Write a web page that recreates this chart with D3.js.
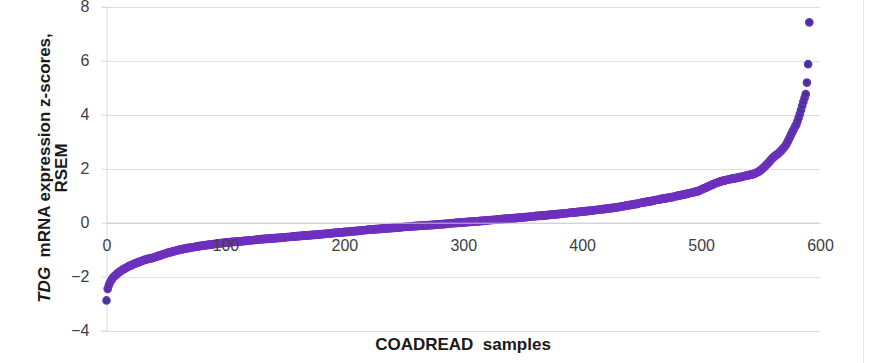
<!DOCTYPE html>
<html>
<head>
<meta charset="utf-8">
<script src="https://cdn.jsdelivr.net/npm/d3@7"></script>
<style>
  html, body { margin: 0; padding: 0; background: #ffffff; }
  svg { display: block; font-family: "Liberation Sans", Arial, sans-serif; }
</style>
</head>
<body>
<svg id="chart" width="870" height="363"></svg>
<script>
// ---- data (sorted TDG z-scores, one per COADREAD sample) ----
const zScores = [
-2.88,-2.45,-2.31,-2.21,-2.13,-2.06,-2.01,-1.97,-1.93,-1.89,
-1.85,-1.82,-1.79,-1.76,-1.73,-1.71,-1.68,-1.66,-1.63,-1.61,
-1.59,-1.57,-1.55,-1.53,-1.51,-1.50,-1.48,-1.46,-1.44,-1.43,
-1.41,-1.39,-1.38,-1.37,-1.35,-1.34,-1.33,-1.32,-1.31,-1.30,
-1.29,-1.27,-1.26,-1.24,-1.23,-1.21,-1.20,-1.18,-1.17,-1.15,
-1.14,-1.13,-1.11,-1.10,-1.09,-1.08,-1.06,-1.05,-1.04,-1.03,
-1.02,-1.01,-1.00,-0.99,-0.98,-0.97,-0.96,-0.95,-0.94,-0.93,
-0.93,-0.92,-0.91,-0.91,-0.90,-0.89,-0.88,-0.88,-0.87,-0.86,
-0.86,-0.85,-0.84,-0.84,-0.83,-0.82,-0.82,-0.81,-0.80,-0.80,
-0.79,-0.79,-0.78,-0.78,-0.77,-0.77,-0.76,-0.76,-0.75,-0.75,
-0.74,-0.74,-0.73,-0.73,-0.72,-0.72,-0.71,-0.71,-0.71,-0.70,
-0.70,-0.69,-0.69,-0.69,-0.68,-0.68,-0.67,-0.67,-0.67,-0.66,
-0.66,-0.65,-0.65,-0.65,-0.64,-0.64,-0.63,-0.63,-0.62,-0.62,
-0.61,-0.61,-0.61,-0.60,-0.60,-0.60,-0.59,-0.59,-0.58,-0.58,
-0.58,-0.57,-0.57,-0.57,-0.56,-0.56,-0.56,-0.55,-0.55,-0.54,
-0.54,-0.54,-0.53,-0.53,-0.53,-0.52,-0.52,-0.51,-0.51,-0.51,
-0.50,-0.50,-0.50,-0.49,-0.49,-0.48,-0.48,-0.48,-0.47,-0.47,
-0.47,-0.46,-0.46,-0.45,-0.45,-0.45,-0.44,-0.44,-0.44,-0.43,
-0.43,-0.42,-0.42,-0.42,-0.41,-0.41,-0.40,-0.40,-0.40,-0.39,
-0.39,-0.38,-0.38,-0.38,-0.37,-0.37,-0.36,-0.36,-0.36,-0.35,
-0.35,-0.34,-0.34,-0.34,-0.33,-0.33,-0.32,-0.32,-0.31,-0.31,
-0.31,-0.30,-0.30,-0.29,-0.29,-0.28,-0.28,-0.28,-0.27,-0.27,
-0.26,-0.26,-0.26,-0.25,-0.25,-0.25,-0.24,-0.24,-0.24,-0.23,
-0.23,-0.23,-0.22,-0.22,-0.21,-0.21,-0.21,-0.20,-0.20,-0.20,
-0.19,-0.19,-0.19,-0.18,-0.18,-0.18,-0.17,-0.17,-0.17,-0.16,
-0.16,-0.16,-0.15,-0.15,-0.15,-0.14,-0.14,-0.14,-0.13,-0.13,
-0.13,-0.12,-0.12,-0.12,-0.11,-0.11,-0.11,-0.11,-0.10,-0.10,
-0.10,-0.09,-0.09,-0.09,-0.08,-0.08,-0.08,-0.07,-0.07,-0.06,
-0.06,-0.06,-0.05,-0.05,-0.05,-0.04,-0.04,-0.03,-0.03,-0.03,
-0.02,-0.02,-0.02,-0.01,-0.01,-0.01,0.00,0.00,0.00,0.01,
0.01,0.01,0.02,0.02,0.03,0.03,0.03,0.04,0.04,0.04,
0.05,0.05,0.05,0.06,0.06,0.07,0.07,0.07,0.08,0.08,
0.08,0.09,0.09,0.10,0.10,0.10,0.11,0.11,0.11,0.12,
0.12,0.12,0.13,0.13,0.14,0.14,0.14,0.15,0.15,0.15,
0.16,0.16,0.17,0.17,0.17,0.18,0.18,0.19,0.19,0.19,
0.20,0.20,0.21,0.21,0.21,0.22,0.22,0.23,0.23,0.23,
0.24,0.24,0.25,0.25,0.25,0.26,0.26,0.27,0.27,0.27,
0.28,0.28,0.29,0.29,0.30,0.30,0.30,0.31,0.31,0.32,
0.32,0.33,0.33,0.33,0.34,0.34,0.35,0.35,0.36,0.36,
0.37,0.37,0.37,0.38,0.38,0.39,0.39,0.40,0.40,0.41,
0.41,0.42,0.42,0.43,0.43,0.44,0.44,0.45,0.45,0.46,
0.46,0.47,0.47,0.48,0.48,0.49,0.49,0.50,0.50,0.51,
0.51,0.52,0.53,0.53,0.54,0.54,0.55,0.56,0.56,0.57,
0.58,0.58,0.59,0.60,0.61,0.61,0.62,0.63,0.64,0.65,
0.65,0.66,0.67,0.68,0.69,0.69,0.70,0.71,0.72,0.73,
0.74,0.74,0.75,0.76,0.77,0.78,0.79,0.79,0.80,0.81,
0.82,0.83,0.84,0.85,0.85,0.86,0.87,0.88,0.89,0.89,
0.90,0.91,0.92,0.93,0.94,0.95,0.95,0.96,0.97,0.98,
0.99,1.00,1.01,1.02,1.03,1.04,1.05,1.06,1.07,1.08,
1.09,1.10,1.11,1.12,1.13,1.14,1.15,1.16,1.18,1.20,
1.22,1.24,1.26,1.28,1.30,1.32,1.34,1.36,1.38,1.40,
1.42,1.44,1.46,1.47,1.49,1.50,1.52,1.53,1.55,1.56,
1.57,1.58,1.59,1.60,1.61,1.62,1.62,1.63,1.64,1.65,
1.66,1.67,1.68,1.69,1.70,1.71,1.72,1.73,1.74,1.75,
1.76,1.77,1.78,1.79,1.80,1.82,1.84,1.86,1.88,1.91,
1.94,1.98,2.02,2.06,2.10,2.15,2.19,2.24,2.29,2.34,
2.39,2.43,2.47,2.50,2.53,2.57,2.61,2.65,2.70,2.75,
2.80,2.86,2.93,3.02,3.11,3.20,3.30,3.38,3.47,3.56,
3.63,3.75,3.88,4.02,4.17,4.33,4.48,4.62,4.76,5.19,
5.87,7.42
];
const xTicks = [0, 100, 200, 300, 400, 500, 600];
const yTicks = [-4, -2, 0, 2, 4, 6, 8];
const xTitle = "COADREAD  samples";
const yTitleGene = "TDG";
const yTitleRest = "  mRNA expression z-scores,";
const yTitleLine2 = "RSEM";

// ---- layout ----
const svg = d3.select("#chart");
const x = d3.scaleLinear().domain([0, 600]).range([106.5, 820]);
const y = d3.scaleLinear().domain([-4, 8]).range([330.7, 6.7]);

// right frame edge
svg.append("line")
  .attr("x1", 863.5).attr("x2", 863.5).attr("y1", 0).attr("y2", 363)
  .attr("stroke", "#e6e6e6").attr("stroke-width", 1);

// horizontal gridlines
svg.append("g").selectAll("line").data(yTicks.filter(d => d !== 0)).join("line")
  .attr("x1", x(0)).attr("x2", x(600))
  .attr("y1", d => Math.round(y(d)) + 0.5).attr("y2", d => Math.round(y(d)) + 0.5)
  .attr("stroke", "#dedede").attr("stroke-width", 1);

// y axis (left, with short outside ticks)
const yAxis = svg.append("g")
  .attr("transform", `translate(${x(0)},0)`)
  .call(d3.axisLeft(y).tickValues(yTicks).tickSize(5).tickPadding(12).tickFormat(d3.format("d")));
yAxis.select(".domain").attr("stroke", "#d9d9d9");
yAxis.selectAll(".tick line").attr("stroke", "#d9d9d9");
yAxis.selectAll(".tick text")
  .attr("font-size", 16).attr("fill", "#404040")
  .attr("font-family", "Liberation Sans, Arial, sans-serif");

// x axis drawn at y = 0
const xAxis = svg.append("g")
  .attr("transform", `translate(0,${y(0)})`)
  .call(d3.axisBottom(x).tickValues(xTicks).tickSize(0).tickFormat(d3.format("d")));
xAxis.select(".domain").attr("stroke", "#bfbfbf");
xAxis.selectAll(".tick text")
  .attr("y", 28).attr("dy", 0)
  .attr("font-size", 16).attr("fill", "#404040")
  .attr("font-family", "Liberation Sans, Arial, sans-serif");

// points
svg.append("g").selectAll("circle").data(zScores).join("circle")
  .attr("cx", (d, i) => x(i))
  .attr("cy", d => y(d))
  .attr("r", 3.6)
  .attr("fill", "#3d3a8c")
  .attr("stroke", "#7030c0")
  .attr("stroke-width", 1.5);

// keep x tick labels above points (as in reference they overlap the curve)
xAxis.raise();

// axis titles
svg.append("text")
  .attr("x", 463).attr("y", 350)
  .attr("text-anchor", "middle")
  .attr("font-size", 17).attr("font-weight", "bold").attr("fill", "#1a1a1a")
  .attr("xml:space", "preserve")
  .text(xTitle);

const yt = svg.append("text")
  .attr("transform", "translate(50,168) rotate(-90)")
  .attr("text-anchor", "middle")
  .attr("font-size", 17).attr("font-weight", "bold").attr("fill", "#1a1a1a")
  .attr("xml:space", "preserve");
yt.append("tspan").attr("font-style", "italic").text(yTitleGene);
yt.append("tspan").text(yTitleRest);

svg.append("text")
  .attr("transform", "translate(67,168) rotate(-90)")
  .attr("text-anchor", "middle")
  .attr("font-size", 17).attr("font-weight", "bold").attr("fill", "#1a1a1a")
  .text(yTitleLine2);
</script>
</body>
</html>
